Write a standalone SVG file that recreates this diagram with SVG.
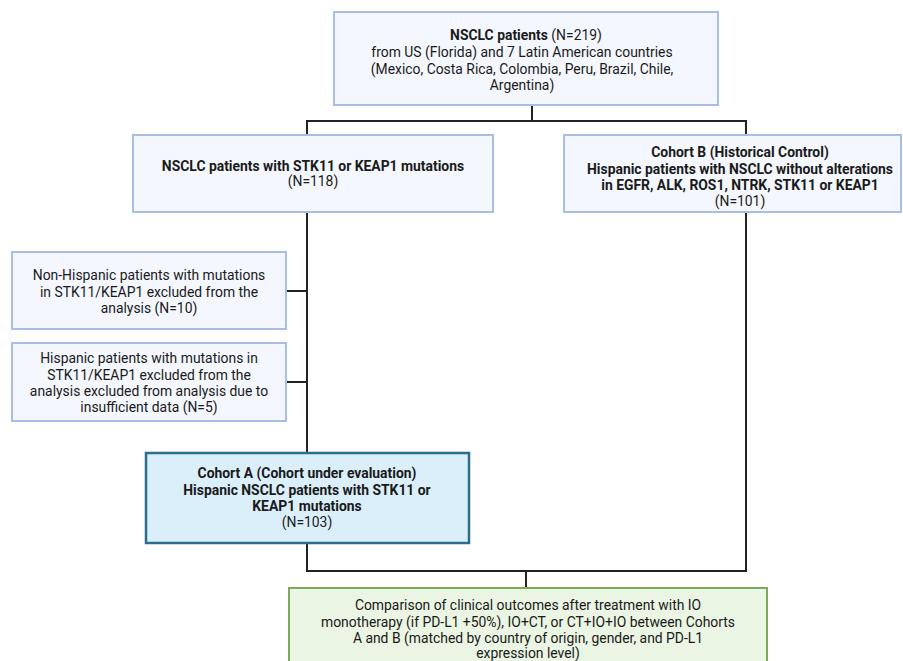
<svg xmlns="http://www.w3.org/2000/svg" width="903" height="661" viewBox="0 0 903 661">
<style>
  .box { fill: #f4f7fd; stroke: #a9bee6; stroke-width: 2; }
  .boxA { fill: #daeffa; stroke: #2d6c8c; stroke-width: 2.5; }
  .boxG { fill: #ebf5e4; stroke: #7ca95d; stroke-width: 2; }
  text { font-family: Roboto, "Liberation Sans", sans-serif; font-size: 13.9px; fill: #1a1a1a; text-anchor: middle; }
  .b { font-weight: bold; }
  .conn { fill: none; stroke: #222; stroke-width: 2; }
</style>
<rect width="903" height="661" fill="#ffffff"/>
<g id="connectors">
  <path class="conn" d="M532 105 V121 M307 135 V121 H746 V135"/>
  <path class="conn" d="M307 212 V453 M286 291 H307 M286 382 H307"/>
  <path class="conn" d="M307 543 V571 H746 V212 M526 571 V588"/>
</g>
<g id="n-all">
  <rect class="box" x="334" y="12" width="384" height="93"/>
  <text x="526" y="40"><tspan class="b">NSCLC patients</tspan> (N=219)</text>
  <text x="522" y="57">from US (Florida) and 7 Latin American countries</text>
  <text x="522" y="74">(Mexico, Costa Rica, Colombia, Peru, Brazil, Chile,</text>
  <text x="522" y="90">Argentina)</text>
</g>
<g id="n-stk11">
  <rect class="box" x="133" y="135" width="360" height="77"/>
  <text class="b" x="313" y="171">NSCLC patients with STK11 or KEAP1 mutations</text>
  <text x="313" y="186">(N=118)</text>
</g>
<g id="n-cohortB">
  <rect class="box" x="564" y="135" width="337" height="77"/>
  <text class="b" x="740" y="157">Cohort B (Historical Control)</text>
  <text class="b" x="740" y="174">Hispanic patients with NSCLC without alterations</text>
  <text class="b" x="740" y="190">in EGFR, ALK, ROS1, NTRK, STK11 or KEAP1</text>
  <text x="740" y="206">(N=101)</text>
</g>
<g id="n-excl1">
  <rect class="box" x="12" y="252" width="274" height="77"/>
  <text x="149" y="280">Non-Hispanic patients with mutations</text>
  <text x="149" y="297">in STK11/KEAP1 excluded from the</text>
  <text x="149" y="313">analysis (N=10)</text>
</g>
<g id="n-excl2">
  <rect class="box" x="12" y="343" width="274" height="78"/>
  <text x="149" y="363">Hispanic patients with mutations in</text>
  <text x="149" y="380">STK11/KEAP1 excluded from the</text>
  <text x="149" y="396">analysis excluded from analysis due to</text>
  <text x="149" y="412">insufficient data (N=5)</text>
</g>
<g id="n-cohortA">
  <rect class="boxA" x="146" y="453" width="323" height="90"/>
  <text class="b" x="307" y="478">Cohort A (Cohort under evaluation)</text>
  <text class="b" x="307" y="495">Hispanic NSCLC patients with STK11 or</text>
  <text class="b" x="307" y="511">KEAP1 mutations</text>
  <text x="307" y="527">(N=103)</text>
</g>
<g id="n-compare">
  <rect class="boxG" x="289" y="588" width="478" height="80"/>
  <text x="528" y="610">Comparison of clinical outcomes after treatment with IO</text>
  <text x="528" y="627">monotherapy (if PD-L1 +50%), IO+CT, or CT+IO+IO between Cohorts</text>
  <text x="528" y="643">A and B (matched by country of origin, gender, and PD-L1</text>
  <text x="528" y="658">expression level)</text>
</g>
</svg>
